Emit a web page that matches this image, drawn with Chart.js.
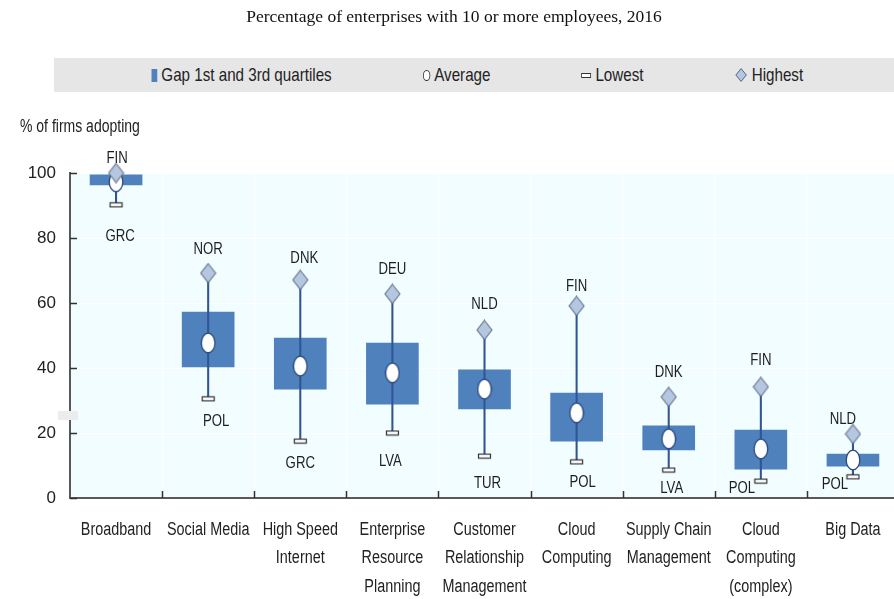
<!DOCTYPE html>
<html>
<head>
<meta charset="utf-8">
<script src="https://cdn.jsdelivr.net/npm/chart.js@4.4.1/dist/chart.umd.min.js"></script>
<style>
    html, body { margin: 0; padding: 0; background: #fff; overflow: hidden; width: 894px; height: 599px; }
    #wrap { position: relative; width: 904px; height: 599px; }
    #chart { position: absolute; left: 0; top: 0; }
    .titre {
        position: absolute; left: 0; top: 6px; width: 908px; text-align: center;
        font-family: 'Liberation Serif', 'Times New Roman', serif; font-size: 17.5px; color: #111;
    }
    .legende {
        position: absolute; left: 54px; top: 58px; width: 850px; height: 34px; background: #e6e6e6;
        display: flex; align-items: center; justify-content: center; padding-right: 4px; box-sizing: border-box;
    }
    .legende-items {
        display: flex; align-items: center; gap: 111px; transform: scaleX(0.82); white-space: nowrap;
        font-family: 'Liberation Sans', Arial, sans-serif; font-size: 18.5px; color: #222;
    }
    .legende span { display: flex; align-items: center; gap: 5px; }
    .ico-box { width: 7px; height: 13px; background: #4f81bd; display: inline-block; }
    .ico-avg { width: 7px; height: 9px; border: 1.3px solid #333; border-radius: 50%; background: #fff; display: inline-block; }
    .ico-low { width: 10px; height: 3px; border: 1.2px solid #333; background: #fff; display: inline-block; }
    .ico-high { width: 8px; height: 8px; border: 1px solid #5d6b82; background: #b4c6e0; transform: rotate(45deg); display: inline-block; margin: 0 3px; }
    .tache { position: absolute; left: 58px; top: 411px; width: 20px; height: 9px; background: #ececec; }
</style>
</head>
<body>
<div id="wrap">
    <canvas id="chart" width="904" height="599"></canvas>
    <div class="titre">Percentage of enterprises with 10 or more employees, 2016</div>
    <div class="legende">
        <div class="legende-items">
            <span><i class="ico-box"></i>Gap 1st and 3rd quartiles</span>
            <span><i class="ico-avg"></i>Average</span>
            <span><i class="ico-low"></i>Lowest</span>
            <span><i class="ico-high"></i>Highest</span>
        </div>
    </div>
    <div class="tache"></div>
</div>
<script>
// Données
const categories = [
    'Broadband', 'Social Media', ['High Speed', 'Internet'], ['Enterprise', 'Resource', 'Planning'],
    ['Customer', 'Relationship', 'Management'], ['Cloud', 'Computing'], ['Supply Chain', 'Management'],
    ['Cloud', 'Computing', '(complex)'], 'Big Data'
];
const quartile1 = [96.3, 40.3, 33.5, 28.9, 27.4, 17.5, 14.8, 8.9, 9.8];
const quartile3 = [99.4, 57.2, 49.2, 47.7, 39.4, 32.3, 22.2, 20.9, 13.5];
const average = [97.3, 47.7, 40.6, 38.5, 33.5, 26.2, 18.2, 15.1, 11.7];
const lowest = [90.2, 30.5, 17.5, 20.0, 12.9, 11.1, 8.6, 5.2, 6.5];
const highest = [100, 69.2, 67.1, 62.8, 51.7, 59.1, 31.1, 34.2, 19.7];
const highestCountry = ['FIN', 'NOR', 'DNK', 'DEU', 'NLD', 'FIN', 'DNK', 'FIN', 'NLD'];
const lowestCountry = ['GRC', 'POL', 'GRC', 'LVA', 'TUR', 'POL', 'LVA', 'POL', 'POL'];
const yTicks = [0, 20, 40, 60, 80, 100];

// Décalages des étiquettes (style)
const highShift = [[1, -15], [0, -24], [4, -21], [0, -24], [0, -26], [0, -19], [0, -24], [0, -26], [-10, -15]];
const lowShift = [[4, 32], [8, 23], [0, 22], [-2, 28], [3, 27], [6, 21], [3, 18], [-19, 7], [-18, 8]];

const sans = "'Liberation Sans', Arial, sans-serif";
const serre = 0.8; // police « narrow » simulée

// Marqueurs dessinés sur des petits canvas
function marqueur(w, h, dessin) {
    const c = document.createElement('canvas');
    c.width = w;
    c.height = h;
    dessin(c.getContext('2d'));
    return c;
}
const cercle = marqueur(16, 22, ctx => {
    ctx.beginPath();
    ctx.ellipse(8, 11, 6.8, 9.8, 0, 0, Math.PI * 2);
    ctx.fillStyle = '#fff';
    ctx.fill();
    ctx.lineWidth = 1.3;
    ctx.strokeStyle = '#2b4a7a';
    ctx.stroke();
});
const losange = marqueur(17, 21, ctx => {
    ctx.beginPath();
    ctx.moveTo(8.5, 1);
    ctx.lineTo(16, 10.5);
    ctx.lineTo(8.5, 20);
    ctx.lineTo(1, 10.5);
    ctx.closePath();
    ctx.fillStyle = '#b4c6e0';
    ctx.fill();
    ctx.lineWidth = 1.1;
    ctx.strokeStyle = '#66748a';
    ctx.stroke();
});
const trait = marqueur(15, 7, ctx => {
    ctx.fillStyle = '#fff';
    ctx.fillRect(1, 1, 13, 5);
    ctx.lineWidth = 1.2;
    ctx.strokeStyle = '#333';
    ctx.strokeRect(1.5, 1.5, 12, 4);
});

// Texte étroit : on comprime horizontalement
function texteEtroit(ctx, txt, x, y, taille, facteur) {
    ctx.save();
    ctx.translate(x, y);
    ctx.scale(facteur, 1);
    ctx.font = taille + 'px ' + sans;
    ctx.fillText(txt, 0, 0);
    ctx.restore();
}

// Fond de la zone de tracé
const fondPlugin = {
    id: 'fond',
    beforeDraw(chart) {
        const { ctx, chartArea: a } = chart;
        ctx.save();
        ctx.fillStyle = '#f1fdff';
        ctx.fillRect(a.left, a.top, a.right - a.left, a.bottom - a.top);
        ctx.restore();
    }
};

// Étiquettes pays, libellés des catégories, graduations intérieures, titre de l'axe
const etiquettesPlugin = {
    id: 'etiquettes',
    beforeDatasetsDraw(chart) {
        const { ctx, scales: { x, y } } = chart;
        ctx.save();
        ctx.fillStyle = '#1e1e1e';
        ctx.textAlign = 'center';
        ctx.textBaseline = 'middle';
        categories.forEach((c, i) => {
            const cx = x.getPixelForValue(i);
            texteEtroit(ctx, highestCountry[i], cx + highShift[i][0], y.getPixelForValue(highest[i]) + highShift[i][1], 16.5, 0.8);
            texteEtroit(ctx, lowestCountry[i], cx + lowShift[i][0], y.getPixelForValue(lowest[i]) + lowShift[i][1], 16.5, 0.8);
        });
        ctx.restore();
    },
    afterDraw(chart) {
        const { ctx, chartArea: a, scales: { x, y } } = chart;
        ctx.save();
        ctx.strokeStyle = '#333';
        ctx.lineWidth = 1.5;
        ctx.beginPath();
        yTicks.forEach(v => {
            const py = Math.round(y.getPixelForValue(v)) + 0.5;
            ctx.moveTo(a.left, py);
            ctx.lineTo(a.left + 7, py);
        });
        const pas = (a.right - a.left) / categories.length;
        for (let i = 1; i < categories.length; i++) {
            const px = Math.round(a.left + pas * i) + 0.5;
            ctx.moveTo(px, a.bottom);
            ctx.lineTo(px, a.bottom - 7);
        }
        ctx.stroke();

        ctx.fillStyle = '#222';
        ctx.textBaseline = 'middle';
        ctx.textAlign = 'center';
        categories.forEach((c, i) => {
            const lignes = Array.isArray(c) ? c : [c];
            lignes.forEach((l, k) => {
                texteEtroit(ctx, l, x.getPixelForValue(i), a.bottom + 32 + k * 28.5, 18, serre);
            });
        });

        ctx.textAlign = 'left';
        texteEtroit(ctx, '% of firms adopting', 20, 127, 17.5, serre);
        ctx.restore();
    }
};

new Chart(document.getElementById('chart'), {
    type: 'bar',
    data: {
        labels: categories,
        datasets: [
            {
                type: 'line',
                label: 'Highest',
                data: highest,
                showLine: false,
                pointStyle: losange,
                clip: false,
                order: 0
            },
            {
                type: 'line',
                label: 'Average',
                data: average,
                showLine: false,
                pointStyle: cercle,
                clip: false,
                order: 1
            },
            {
                type: 'line',
                label: 'Lowest',
                data: lowest,
                showLine: false,
                pointStyle: trait,
                clip: false,
                order: 1
            },
            {
                label: 'Range',
                data: lowest.map((v, i) => [v, highest[i]]),
                backgroundColor: '#2f5597',
                barThickness: 1.4,
                grouped: false,
                clip: false,
                order: 2
            },
            {
                label: 'Gap 1st and 3rd quartiles',
                data: quartile1.map((v, i) => [v, quartile3[i]]),
                backgroundColor: '#4f81bd',
                barThickness: 52,
                grouped: false,
                clip: false,
                order: 3
            }
        ]
    },
    options: {
        responsive: false,
        animation: false,
        devicePixelRatio: 1,
        layout: { padding: { top: 173, right: 5, left: 0, bottom: 0 } },
        plugins: {
            legend: { display: false },
            tooltip: { enabled: false }
        },
        scales: {
            x: {
                offset: true,
                grid: { offset: true, color: '#ffffff', drawTicks: false },
                border: { color: '#595959', width: 2 },
                ticks: { display: false },
                afterFit(s) { s.height = 101; }
            },
            y: {
                min: 0,
                max: 100,
                ticks: {
                    stepSize: 20,
                    font: { family: sans, size: 17 },
                    color: '#222',
                    padding: 14
                },
                grid: { color: '#ffffff', drawTicks: false },
                border: { color: '#595959', width: 2 },
                afterFit(s) { s.width = 70; }
            }
        }
    },
    plugins: [fondPlugin, etiquettesPlugin]
});
</script>
</body>
</html>
